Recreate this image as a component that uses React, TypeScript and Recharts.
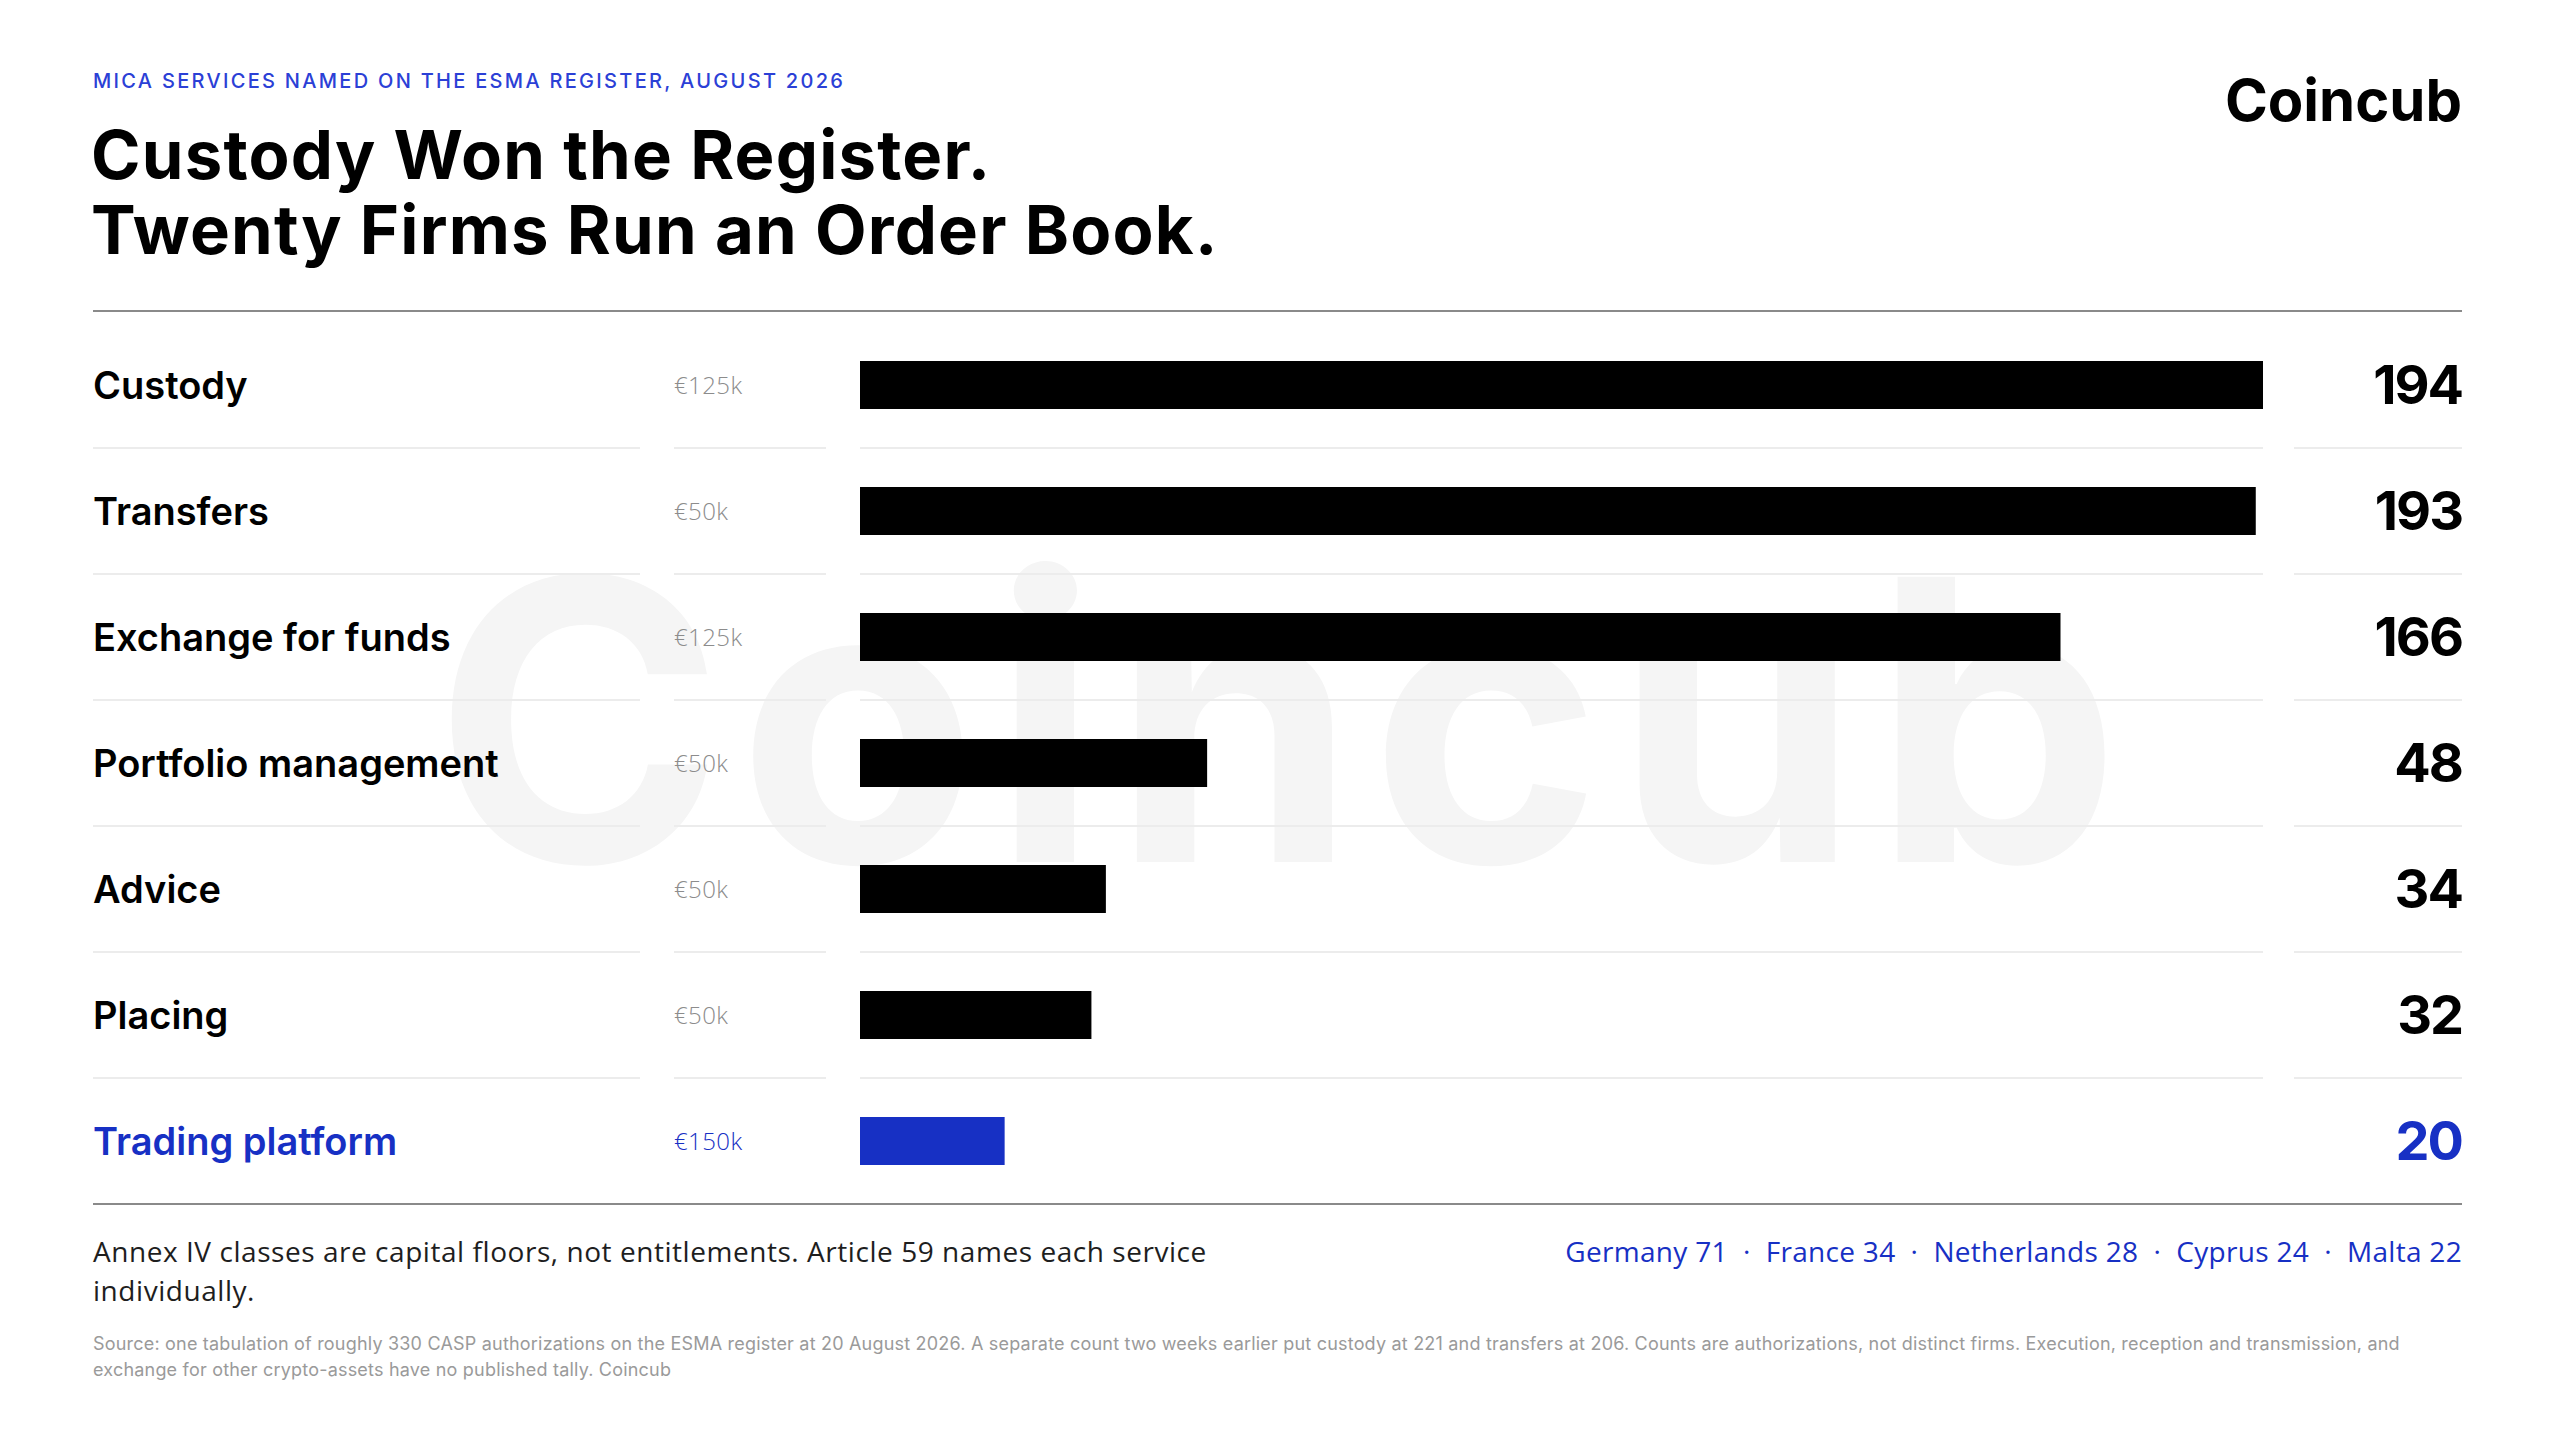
import React from 'react'
import { BarChart, Bar, XAxis, YAxis, LabelList, Cell } from 'recharts'

// MiCA services named on the ESMA register, Aug 2026
const services = [
  'Custody',
  'Transfers',
  'Exchange for funds',
  'Portfolio management',
  'Advice',
  'Placing',
  'Trading platform',
]
const authorizations = [194, 193, 166, 48, 34, 32, 20]
const capitalFloors = ['€125k', '€50k', '€125k', '€50k', '€50k', '€50k', '€150k']
const highlighted = 'Trading platform'
const countries = ['Germany 71', 'France 34', 'Netherlands 28', 'Cyprus 24', 'Malta 22']

const BLUE = '#1730c4'
const INK = '#000000'
const MUTED = '#8c8c8c'
const RULE = '#ececec'
const SANS = 'Inter, "Noto Sans", sans-serif'
const LIGHT = '"Open Sans", Lato, sans-serif'

const data = services.map((name, i) => ({
  name,
  value: authorizations[i],
  floor: capitalFloors[i],
}))

const ROW = 126

function RowTick({ y, payload }: any) {
  const i = services.indexOf(payload.value)
  const hot = payload.value === highlighted
  const sepY = y + ROW / 2
  return (
    <g>
      <text x={93} y={y + 14} fontFamily={SANS} fontSize={38} fontWeight={600} letterSpacing={0} fill={hot ? BLUE : INK}>
        {payload.value}
      </text>
      <text x={674} y={y + 9} fontFamily={LIGHT} fontSize={24} fontWeight={300} letterSpacing={0.4} fill={hot ? BLUE : MUTED}>
        {capitalFloors[i]}
      </text>
      {i < services.length - 1 && (
        <g stroke={RULE} strokeWidth={2}>
          <line x1={93} x2={640} y1={sepY} y2={sepY} />
          <line x1={674} x2={826} y1={sepY} y2={sepY} />
          <line x1={860} x2={2263} y1={sepY} y2={sepY} />
          <line x1={2294} x2={2462} y1={sepY} y2={sepY} />
        </g>
      )}
    </g>
  )
}

function ValueLabel(props: any) {
  const { y, height, value, index } = props
  const hot = services[index] === highlighted
  return (
    <text x={2462} y={y + height / 2 + 19} textAnchor="end" fontFamily={SANS} fontSize={54} fontWeight={700} letterSpacing={-2} fill={hot ? BLUE : INK}>
      {value}
    </text>
  )
}

export default function App() {
  return (
    <div style={{ position: 'absolute', left: 0, top: 0, width: 2560, height: 1433, background: '#fff', overflow: 'hidden' }}>
      <svg width={2560} height={1433} style={{ position: 'absolute', left: 0, top: 0 }}>
        <text x={1284} y={862} textAnchor="middle" fontFamily={SANS} fontSize={392} fontWeight={700} letterSpacing={14} fill="#f5f5f5">
          Coincub
        </text>
        <text x={93} y={88} fontFamily={SANS} fontSize={20} fontWeight={500} letterSpacing={2.3} fill="#2b40d6">
          MICA SERVICES NAMED ON THE ESMA REGISTER, AUGUST 2026
        </text>
        <text fontFamily={SANS} fontSize={67} fontWeight={700} letterSpacing={1.2} fill={INK}>
          <tspan x={91} y={179}>Custody Won the Register.</tspan>
          <tspan x={91} y={254}>Twenty Firms Run an Order Book.</tspan>
        </text>
        <text x={2462} y={121} textAnchor="end" fontFamily={SANS} fontSize={58} fontWeight={700} letterSpacing={0} fill={INK}>
          Coincub
        </text>
        <line x1={93} x2={2462} y1={311} y2={311} stroke="#8a8a8a" strokeWidth={2} />
        <line x1={93} x2={2462} y1={1204} y2={1204} stroke="#8a8a8a" strokeWidth={2} />
        <text fontFamily={LIGHT} fontSize={28} letterSpacing={0.55} fill="#1e1e1e">
          <tspan x={93} y={1262}>Annex IV classes are capital floors, not entitlements. Article 59 names each service</tspan>
          <tspan x={93} y={1301}>individually.</tspan>
        </text>
        <text x={2462} y={1262} textAnchor="end" fontFamily={LIGHT} fontSize={28} letterSpacing={0.3} fill={BLUE} style={{ whiteSpace: 'pre' }}>
          {countries.join('  ·  ')}
        </text>
        <text fontFamily={SANS} fontSize={18} letterSpacing={0.2} fill="#9a9a9a">
          <tspan x={93} y={1350}>
            Source: one tabulation of roughly 330 CASP authorizations on the ESMA register at 20 August 2026. A separate count two weeks earlier put custody at 221 and transfers at 206. Counts are authorizations, not distinct firms. Execution, reception and transmission, and
          </tspan>
          <tspan x={93} y={1376}>exchange for other crypto-assets have no published tally. Coincub</tspan>
        </text>
      </svg>
      <div style={{ position: 'absolute', left: 0, top: 322 }}>
        <BarChart
          width={2560}
          height={ROW * services.length}
          data={data}
          layout="vertical"
          margin={{ top: 0, right: 297, bottom: 0, left: 0 }}
        >
          <XAxis type="number" domain={[0, 194]} hide />
          <YAxis
            type="category"
            dataKey="name"
            width={860}
            axisLine={false}
            tickLine={false}
            interval={0}
            tick={<RowTick />}
          />
          <Bar dataKey="value" barSize={48} isAnimationActive={false}>
            {data.map((d) => (
              <Cell key={d.name} fill={d.name === highlighted ? BLUE : INK} />
            ))}
            <LabelList dataKey="value" content={<ValueLabel />} />
          </Bar>
        </BarChart>
      </div>
    </div>
  )
}
